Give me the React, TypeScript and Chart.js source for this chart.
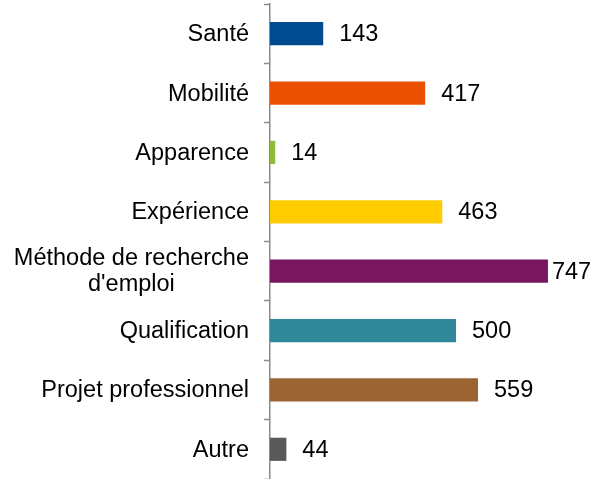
import React, { useEffect, useRef } from "react";
import { Chart, registerables } from "chart.js";

Chart.register(...registerables);

const categories: (string | string[])[] = [
  "Santé",
  "Mobilité",
  "Apparence",
  "Expérience",
  ["Méthode de recherche", "d'emploi"],
  "Qualification",
  "Projet professionnel",
  "Autre",
];
const values = [143, 417, 14, 463, 747, 500, 559, 44];
const colors = ["#004A8F", "#EB5000", "#92BA3A", "#FFCC00", "#78175F", "#31889B", "#9A6533", "#595959"];

const FONT = "Liberation Sans, Arial, sans-serif";
const FONT_SIZE = 23.5;

const labelsPlugin = {
  id: "customLabels",
  afterDatasetsDraw(chart: any) {
    const ctx = chart.ctx;
    const meta = chart.getDatasetMeta(0);
    const yScale = chart.scales.y;
    ctx.save();
    ctx.font = `${FONT_SIZE}px ${FONT}`;
    ctx.fillStyle = "#000";
    ctx.textBaseline = "middle";
    // value labels
    meta.data.forEach((bar: any, i: number) => {
      const txt = String(values[i]);
      const w = ctx.measureText(txt).width;
      let x = bar.x + 16;
      const maxX = chart.width - 8 - w;
      if (x > maxX) x = Math.max(bar.x + 4, maxX);
      ctx.textAlign = "left";
      ctx.fillText(txt, x, bar.y + 1);
    });
    // category labels
    const rightX = yScale.right - 21;
    const lineH = 26;
    categories.forEach((c, i) => {
      const y = yScale.getPixelForValue(i);
      const lines = Array.isArray(c) ? c : [c];
      const maxW = Math.max(...lines.map((l) => ctx.measureText(l).width));
      const startY = y - ((lines.length - 1) * lineH) / 2;
      lines.forEach((l, k) => {
        if (lines.length > 1) {
          ctx.textAlign = "center";
          ctx.fillText(l, rightX - maxW / 2, startY + k * lineH);
        } else {
          ctx.textAlign = "right";
          ctx.fillText(l, rightX, startY + k * lineH + 1);
        }
      });
    });
    ctx.restore();
  },
};

export default function App() {
  const ref = useRef<HTMLCanvasElement | null>(null);
  useEffect(() => {
    if (!ref.current) return;
    const chart = new Chart(ref.current, {
      type: "bar",
      data: {
        labels: categories.map((c) => (Array.isArray(c) ? c.join(" ") : c)),
        datasets: [
          {
            data: values,
            backgroundColor: colors,
            borderWidth: 0,
            barPercentage: 0.39,
            categoryPercentage: 1,
          },
        ],
      },
      options: {
        indexAxis: "y",
        responsive: false,
        animation: false,
        maintainAspectRatio: false,
        layout: { padding: { top: 4, bottom: 0, left: 0, right: 8 } },
        plugins: { legend: { display: false }, tooltip: { enabled: false } },
        scales: {
          x: {
            display: false,
            min: 0,
            max: 860,
          },
          y: {
            afterFit: (s: any) => {
              s.width = 270;
            },
            ticks: { display: false },
            grid: {
              drawOnChartArea: false,
              drawTicks: true,
              tickLength: 6,
              tickColor: "#8c8c8c",
              tickWidth: 1.5,
              offset: true,
            },
            border: { display: true, color: "#8c8c8c", width: 1.5 },
          },
        },
      },
      plugins: [labelsPlugin],
    });
    return () => chart.destroy();
  }, []);
  return (
    <div style={{ position: "absolute", left: 0, top: 0, width: 598, height: 479, background: "#fff" }}>
      <canvas ref={ref} width={598} height={479} />
    </div>
  );
}
